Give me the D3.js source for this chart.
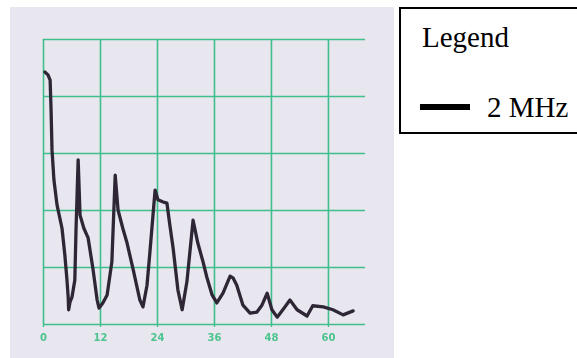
<!DOCTYPE html>
<html>
<head>
<meta charset="utf-8">
<script src="https://cdn.jsdelivr.net/npm/d3@7"></script>
<style>
  body { margin: 0; background: #fff; }
  svg { display: block; }
  .grid line { stroke: #3fbf8c; stroke-width: 1.6; }
  .grid .domain { display: none; }
  .xlab text { fill: #4cc48e; font-family: "DejaVu Sans", sans-serif; font-size: 10px; font-weight: bold; }
  .xlab line { stroke: #3fbf8c; stroke-width: 1.4; }
  .xlab .domain { display: none; }
</style>
</head>
<body>
<svg class="chart-img"></svg>
<script>
// frequency-ish x, amplitude y (no y labels on the paper)
const xValues = [0.4, 1.05, 1.5, 1.7, 1.9, 2.3, 2.95, 4.0, 4.6, 5.05, 5.3, 5.4, 5.7, 6.1, 6.7, 6.95, 7.4,
    7.8, 8.6, 9.5, 10.5, 11.4, 11.8, 12.6, 13.5, 14.5, 15.2, 15.8, 16.8, 17.7, 19.0, 20.4, 21.05,
    21.9, 22.5, 23.6, 24.2, 25.3, 26.1, 26.7, 27.4, 28.4, 29.3, 30.3, 31.6, 32.6, 33.7, 34.5, 35.6,
    36.6, 37.9, 39.4, 40.0, 40.8, 42.1, 43.6, 45.05, 46.1, 47.2, 48.2, 49.3, 50.5, 52.0, 53.5, 55.6,
    56.8, 59.0, 61.05, 63.2, 65.3];
const yValues = [44.2, 43.7, 42.8, 37.5, 30.5, 25.3, 20.9, 16.8, 12.1, 7.7, 4.7, 2.5, 3.9, 4.7, 7.7, 16.5, 28.8,
    19.1, 16.8, 15.1, 9.8, 4.2, 2.8, 3.7, 5.1, 10.9, 26.1, 20.0, 16.8, 14.2, 9.5, 4.2, 3.0,
    6.8, 12.5, 23.5, 21.8, 21.4, 21.2, 17.4, 13.3, 6.0, 2.5, 7.4, 18.2, 14.2, 10.9, 8.2, 5.1,
    3.7, 5.4, 8.4, 8.1, 6.8, 3.3, 1.9, 2.1, 3.3, 5.4, 2.5, 1.2, 2.5, 4.2, 2.5, 1.4,
    3.2, 3.0, 2.5, 1.6, 2.3];
const xTicks = [0, 12, 24, 36, 48, 60];
const yTicks = [0, 10, 20, 30, 40, 50];
const seriesName = '2 MHz';

const data = xValues.map((x, i) => ({x: x, y: yValues[i]}));

const width = 577, height = 358;
const chart = d3.select('.chart-img').attr('width', width).attr('height', height);

const defs = chart.append('defs');
defs.append('filter').attr('id', 'soft')
    .append('feGaussianBlur').attr('stdDeviation', 0.5);

// paper photo
chart.append('rect').attr('x', 10).attr('y', 7).attr('width', 384).attr('height', 351)
    .attr('fill', '#e8e6ef');

const xScale = d3.scaleLinear().domain([0, 67.8]).range([43, 365]);
const yScale = d3.scaleLinear().domain([0, 50]).range([324, 39]);

const plot = chart.append('g').attr('filter', 'url(#soft)');

plot.append('g').classed('grid', true)
    .attr('transform', `translate(0, ${yScale(0)})`)
    .call(d3.axisBottom(xScale).tickValues(xTicks).tickFormat('')
        .tickSizeInner(-(yScale(0) - yScale(50))).tickSizeOuter(0));

plot.append('g').classed('grid', true)
    .attr('transform', `translate(${xScale(0)}, 0)`)
    .call(d3.axisLeft(yScale).tickValues(yTicks).tickFormat('')
        .tickSizeInner(-(xScale(67.8) - xScale(0))).tickSizeOuter(0));

plot.append('g').classed('xlab', true)
    .attr('transform', `translate(0, ${yScale(0)})`)
    .call(d3.axisBottom(xScale).tickValues(xTicks).tickSize(3).tickPadding(7));

plot.append('path')
    .datum(data)
    .attr('fill', 'none')
    .attr('stroke', '#2e2836')
    .attr('stroke-width', 3.3)
    .attr('stroke-linejoin', 'round')
    .attr('stroke-linecap', 'round')
    .attr('d', d3.line().x(d => xScale(d.x)).y(d => yScale(d.y)));

// legend box
const legend = chart.append('g');
legend.append('rect').attr('x', 400).attr('y', 8).attr('width', 200).attr('height', 125)
    .attr('fill', '#fff').attr('stroke', '#000').attr('stroke-width', 2);
legend.append('text').attr('x', 422).attr('y', 47)
    .style('font-family', '"Liberation Serif", serif').style('font-size', '29px')
    .text('Legend');
legend.append('line').attr('x1', 420).attr('x2', 470).attr('y1', 107).attr('y2', 107)
    .attr('stroke', '#000').attr('stroke-width', 6);
legend.append('text').attr('x', 487).attr('y', 117)
    .style('font-family', '"Liberation Serif", serif').style('font-size', '29px')
    .text(seriesName);
</script>
</body>
</html>
